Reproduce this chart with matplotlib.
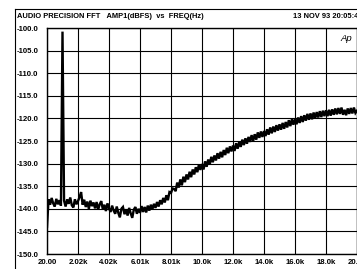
import numpy as np
import matplotlib
matplotlib.use("Agg")
import matplotlib.pyplot as plt
from matplotlib.lines import Line2D

# FFT trace, one value every ~100 Hz from 20 Hz to 20 kHz (dBFS)
freq_hz = np.linspace(20, 20000, 201)
amp_dbfs = [
    -144.0, -137.9, -139.1, -137.6, -138.8, -139.5, -137.8, -139.0, -138.1, -139.3,
    -100.8,
    -138.2, -139.5, -137.9, -138.9, -137.5, -139.2, -139.7, -137.9, -139.0, -138.3,
    -137.4, -136.3, -139.1, -138.0, -139.6, -138.4, -140.0, -138.2, -139.4, -138.6,
    -139.9, -138.5, -140.2, -139.0, -138.3, -140.1, -139.1, -140.5, -138.8, -139.9,
    -140.7, -139.3, -140.4, -141.1, -139.5, -140.9, -141.9, -140.0, -139.6, -141.2,
    -140.1, -141.5, -139.8, -141.0, -142.0, -140.2, -139.6, -141.1, -140.0, -140.9,
    -139.4, -140.7, -139.6, -140.8, -139.3, -140.4, -139.1, -140.1, -138.9, -139.8,
    -138.5, -139.5, -138.1, -139.0, -137.6, -138.6, -137.0, -138.1, -136.3, -136.5,
    -135.5, -135.6, -136.1, -134.2, -135.3, -133.5, -134.8, -132.9, -134.1, -132.4,
    -133.5, -131.8, -133.0, -131.3, -132.4, -130.8, -131.9, -130.2, -131.4, -130.1,
    -131.3, -129.5, -130.7, -129.1, -130.2, -128.5, -129.7, -128.2, -129.3, -127.7,
    -128.9, -127.4, -128.6, -127.0, -128.1, -126.5, -127.7, -126.2, -127.3, -126.0,
    -127.2, -125.5, -126.7, -125.2, -126.3, -124.7, -125.9, -124.4, -125.6, -124.1,
    -125.2, -123.7, -125.0, -123.5, -124.7, -123.1, -124.3, -122.9, -124.1, -122.8,
    -123.9, -122.4, -123.6, -122.0, -123.3, -121.8, -123.0, -121.5, -122.7, -121.3,
    -122.5, -121.0, -122.3, -120.8, -122.0, -120.4, -121.7, -120.2, -121.4, -120.1,
    -121.3, -119.8, -121.0, -119.5, -120.8, -119.3, -120.5, -119.0, -120.3, -118.9,
    -120.2, -118.7, -120.0, -118.6, -119.8, -118.4, -119.7, -118.3, -119.5, -118.2,
    -119.5, -118.1, -119.4, -118.0, -119.2, -117.8, -119.1, -117.7, -119.0, -117.6,
    -119.2, -118.1, -119.3, -117.8, -119.0, -117.7, -118.9, -117.6, -118.8, -118.3,
]

x_ticks = np.linspace(20, 20000, 11)
x_labels = ["20.00", "2.02k", "4.02k", "6.01k", "8.01k", "10.0k",
            "12.0k", "14.0k", "16.0k", "18.0k", "20.0k"]
y_ticks = np.arange(-150, -99, 5)
y_labels = ["%.1f" % v for v in y_ticks]

plt.rcParams['font.family'] = ['Liberation Sans', 'DejaVu Sans']

fig = plt.figure(figsize=(3.57, 2.69), dpi=100)
W, H = 357, 269
ax = fig.add_axes([47 / W, 15 / H, 310 / W, 226 / H])

ax.plot(freq_hz, amp_dbfs, color="black", lw=1.7, solid_joinstyle="miter")

ax.set_xlim(20, 20000)
ax.set_ylim(-150, -100)
ax.set_xticks(x_ticks)
ax.set_xticklabels(x_labels, fontsize=5.6, fontweight="bold")
ax.set_yticks(y_ticks)
ax.set_yticklabels(y_labels, fontsize=5.6, fontweight="bold", ha="left")
ax.tick_params(axis="y", length=0, pad=21.6)
ax.tick_params(axis="x", length=0, pad=3.6)
ax.grid(True, color="black", lw=0.8)
for s in ax.spines.values():
    s.set_linewidth(1.0)

ax.text(0.985, 0.955, "Ap", transform=ax.transAxes, ha="right", va="center",
        fontsize=6.8, style="italic")

# outer frame (left and top)
fig.add_artist(Line2D([15 / W, 15 / W], [0, 1 - 9 / H], color="black", lw=0.8))
fig.add_artist(Line2D([15 / W, 1], [1 - 9 / H, 1 - 9 / H], color="black", lw=0.8))

fig.text(17 / W, 1 - 16 / H, "AUDIO PRECISION FFT   AMP1(dBFS)  vs  FREQ(Hz)",
         fontsize=5.4, fontweight="bold", va="center", ha="left")
fig.text(293 / W, 1 - 16 / H, "13 NOV 93 20:05:42",
         fontsize=5.4, fontweight="bold", va="center", ha="left")

fig.savefig("out.png", dpi=100)
